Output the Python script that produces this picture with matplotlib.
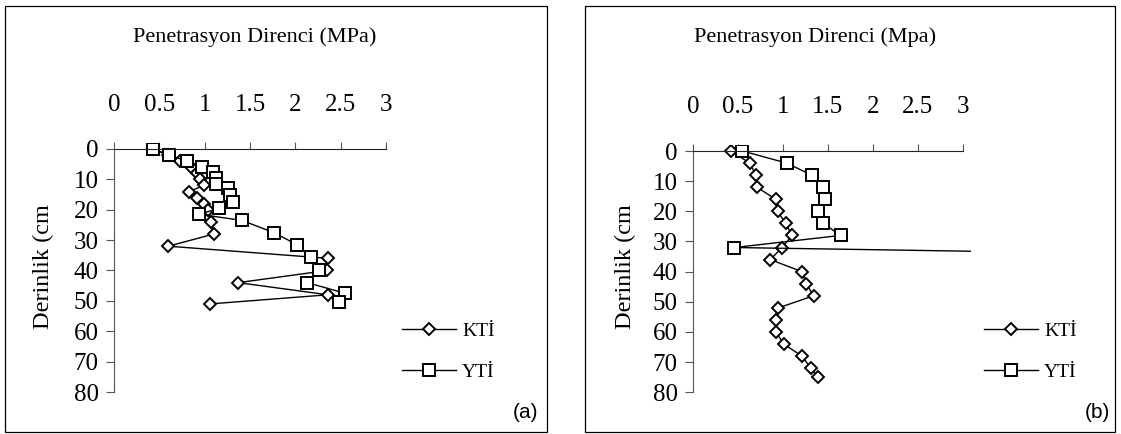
import matplotlib
matplotlib.use("Agg")
import matplotlib.pyplot as plt
from matplotlib.patches import Rectangle

plt.rcParams['font.family'] = ['Liberation Serif', 'DejaVu Serif']

# panel (a)
a_kti_depth = [0, 2, 4, 6, 8, 10, 12, 14, 16, 18, 20, 24, 28, 32, 36, 40, 44, 48, 51]
a_kti_val = [0.43, 0.60, 0.73, 0.85, 0.91, 0.95, 0.99, 0.83, 0.92, 0.99, 1.04, 1.07, 1.10,
             0.60, 2.36, 2.35, 1.37, 2.36, 1.06]
a_yti_depth = [0, 2, 4, 6, 7.5, 9.5, 11.5, 13, 15, 17.5, 19.5, 21.5, 23.5, 27.5, 31.5,
               35.5, 40, 44, 47.5, 50.5]
a_yti_val = [0.43, 0.61, 0.80, 0.97, 1.09, 1.13, 1.13, 1.26, 1.28, 1.31, 1.16, 0.94, 1.41,
             1.76, 2.02, 2.17, 2.26, 2.13, 2.55, 2.48]

# panel (b)
b_kti_depth = [0, 4, 8, 12, 16, 20, 24, 28, 32, 36, 40, 44, 48, 52, 56, 60, 64, 68, 72, 75]
b_kti_val = [0.42, 0.63, 0.70, 0.71, 0.92, 0.94, 1.03, 1.10, 0.99, 0.86, 1.21, 1.26, 1.34,
             0.95, 0.92, 0.92, 1.01, 1.21, 1.31, 1.39]
b_yti_depth = [0, 4, 8, 12, 16, 20, 24, 28, 32, 36]
b_yti_val = [0.55, 1.04, 1.32, 1.45, 1.47, 1.39, 1.45, 1.64, 0.46, 9.0]

xticks = [0, 0.5, 1, 1.5, 2, 2.5, 3]
xticklabels = ['0', '0.5', '1', '1.5', '2', '2.5', '3']
yticks = [0, 10, 20, 30, 40, 50, 60, 70, 80]

W, H = 1121, 434
fig = plt.figure(figsize=(W / 100, H / 100), dpi=100)


def px_axes(x0, x1, ytop, ybot):
    return fig.add_axes([x0 / W, (H - ybot) / H, (x1 - x0) / W, (ybot - ytop) / H])


def setup(ax, xmax, title, letter, lab_x, title_x, leg_x, letter_x):
    ax.set_xlim(0, xmax)
    ax.set_ylim(80, -2)
    ax.xaxis.tick_top()
    ax.spines['top'].set_position(('data', 0))
    ax.spines['top'].set_bounds(0, 3)
    ax.spines['left'].set_bounds(0, 80)
    ax.spines['right'].set_visible(False)
    ax.spines['bottom'].set_visible(False)
    ax.spines['top'].set_color('#222222')
    ax.spines['left'].set_color('#555555')
    ax.set_xticks(xticks)
    ax.set_xticklabels(xticklabels)
    ax.set_yticks(yticks)
    ax.tick_params(axis='x', direction='out', length=5, color='#555555', pad=19, labelsize=18)
    ax.tick_params(axis='y', direction='out', length=6, color='#555555', pad=5, labelsize=18)
    ax.patch.set_visible(False)
    fig.text(title_x / W, 1 - 37 / H, title, ha='center', va='center', fontsize=16)
    fig.text(lab_x / W, 1 - 267 / H, 'Derinlik (cm', rotation=90, ha='center', va='center',
             fontsize=17.5)
    fig.text(letter_x / W, 1 - 412 / H, letter, ha='right', va='center', fontsize=15,
             family='Liberation Sans')
    ax.legend(loc='upper left', bbox_to_anchor=(leg_x / W, 1 - 322 / H),
              bbox_transform=fig.transFigure, frameon=False, fontsize=14,
              handlelength=2.8, labelspacing=1.2, handletextpad=0.3, borderpad=0,
              borderaxespad=0)


mk = dict(color='black', lw=1.0, mfc='white', mec='black', mew=1.4)

ax1 = px_axes(114, 386, 149 - 2 * 3.04, 392)
ax1.plot(a_kti_val, a_kti_depth, marker='D', ms=6, label='KTİ', **mk)
ax1.plot(a_yti_val, a_yti_depth, marker='s', ms=8, label='YTİ', **mk)
setup(ax1, 3, 'Penetrasyon Direnci (MPa)', '(a)', 43, 255, 402, 538)

ax2 = px_axes(693, 971, 151 - 2 * 3.016, 392.3)
ax2.plot(b_kti_val, b_kti_depth, marker='D', ms=6, label='KTİ', **mk)
ax2.plot(b_yti_val, b_yti_depth, marker='s', ms=8, label='YTİ', **mk)
setup(ax2, 3.09, 'Penetrasyon Direnci (Mpa)', '(b)', 625, 815, 984, 1110)

for x0, x1 in [(5, 547), (585, 1115)]:
    fig.patches.append(Rectangle((x0 / W, 2 / H), (x1 - x0) / W, (430 - 4) / H,
                                 transform=fig.transFigure, fill=False, ec='black', lw=0.9))

plt.savefig('out.png', dpi=100)
